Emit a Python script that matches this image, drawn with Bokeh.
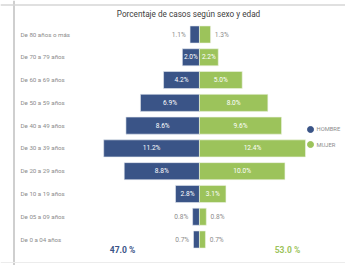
from bokeh.plotting import figure
from bokeh.models import Range1d, Span, ColumnDataSource
from bokeh.core.properties import value
from bokeh.embed import file_html
from bokeh.resources import INLINE

categories = ["De 80 años o más", "De 70 a 79 años", "De 60 a 69 años",
              "De 50 a 59 años", "De 40 a 49 años", "De 30 a 39 años",
              "De 20 a 29 años", "De 10 a 19 años", "De 05 a 09 años",
              "De 0 a 04 años"]
hombre = [1.1, 2.0, 4.2, 6.9, 8.6, 11.2, 8.8, 2.8, 0.8, 0.7]
mujer = [1.3, 2.2, 5.0, 8.0, 9.6, 12.4, 10.0, 3.1, 0.8, 0.7]
series_names = ["HOMBRE", "MUJER"]
totals = [47.0, 53.0]
title_text = "Porcentaje de casos según sexo y edad"

BLUE = "#3a5487"
GREEN = "#9cc35b"
GRAY = "#8c8c8c"
FONT = "Roboto"

n = len(categories)
ys = [n - 1 - i for i in range(n)]

W, H = 345, 265
p = figure(width=W, height=H, output_backend="svg", toolbar_location=None,
           min_border=0, x_range=Range1d(-23.27, 17.08),
           y_range=Range1d(-1.141, 10.493))
p.axis.visible = False
p.grid.visible = False
p.outline_line_color = None
p.background_fill_color = "white"
p.border_fill_color = "white"

# frame lines
p.add_layout(Span(location=-21.69, dimension="height", line_color="#cfcfcf", line_width=2))
p.add_layout(Span(location=10.295, dimension="width", line_color="#d6d6d6", line_width=1.5))
p.add_layout(Span(location=-1.01, dimension="width", line_color="#ececec", line_width=1))

src = ColumnDataSource(dict(
    y=ys, cat=categories,
    hl=[-v for v in hombre], hr=[0] * n,
    ml=[0] * n, mr=mujer,
))
p.hbar(y="y", left="hl", right="hr", height=0.75, source=src,
       fill_color=BLUE, line_color="#e4e9f0", line_width=0.6)
p.hbar(y="y", left="ml", right="mr", height=0.75, source=src,
       fill_color=GREEN, line_color="#eef4e4", line_width=0.6)

# category labels
p.text(x=[-20.93] * n, y=ys, text=categories, text_font=value(FONT),
       text_font_size="6.2px", text_color=GRAY, text_align="left",
       text_baseline="middle")

# value labels
hi_x, hi_y, hi_t = [], [], []
ho_x, ho_y, ho_t = [], [], []
for y, v in zip(ys, hombre):
    if v >= 1.5:
        hi_x.append(-v / 2); hi_y.append(y); hi_t.append(f"{v:.1f}%")
    else:
        ho_x.append(-v - 0.5); ho_y.append(y); ho_t.append(f"{v:.1f}%")
mi_x, mi_y, mi_t = [], [], []
mo_x, mo_y, mo_t = [], [], []
for y, v in zip(ys, mujer):
    if v >= 1.5:
        mi_x.append(v / 2); mi_y.append(y); mi_t.append(f"{v:.1f}%")
    else:
        mo_x.append(v + 0.5); mo_y.append(y); mo_t.append(f"{v:.1f}%")

common = dict(text_font=value(FONT), text_font_size="6.6px", text_baseline="middle")
p.text(x=hi_x, y=hi_y, text=hi_t, text_color="white", text_align="center", **common)
p.text(x=mi_x, y=mi_y, text=mi_t, text_color="white", text_align="center", **common)
p.text(x=ho_x, y=ho_y, text=ho_t, text_color=GRAY, text_align="right", **common)
p.text(x=mo_x, y=mo_y, text=mo_t, text_color=GRAY, text_align="left", **common)

# title
p.text(x=[-1.28], y=[9.92], text=[title_text], text_font=value(FONT),
       text_font_size="8.2px", text_color="#404040", text_align="center",
       text_baseline="middle")

# legend
p.scatter(x=[12.99, 12.99], y=[4.83, 4.17], size=6, color=[BLUE, GREEN])
p.text(x=[13.69, 13.69], y=[4.83, 4.17], text=series_names, text_font=value(FONT),
       text_font_size="5.8px", text_color=GRAY, text_align="left",
       text_baseline="middle")

# totals
p.text(x=[-9.0, 10.29], y=[-0.48, -0.48], text=[f"{t:.1f} %" for t in totals],
       text_font=value(FONT), text_font_size="8.5px", text_color=[BLUE, GREEN],
       text_align="center", text_baseline="middle", text_font_style="bold")

open("out.html", "w").write(file_html(p, INLINE))
